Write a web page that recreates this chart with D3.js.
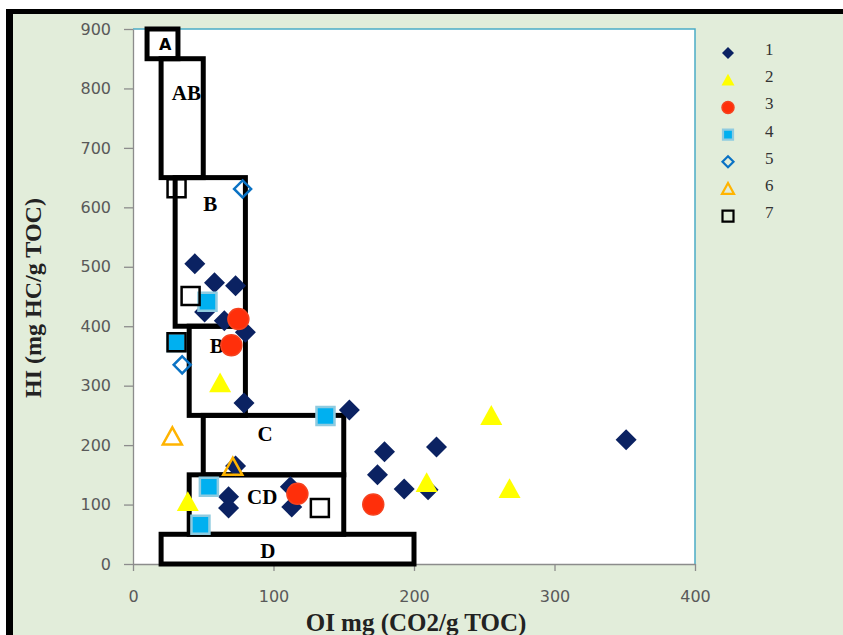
<!DOCTYPE html>
<html>
<head>
<meta charset="utf-8">
<script src="https://cdn.jsdelivr.net/npm/d3@7"></script>
<style>
  body { margin: 0; background: #ffffff; }
  svg { display: block; }
</style>
</head>
<body>
<div id="chart"></div>
<script>
// values (OI, HI)
const seriesLabels = ['1', '2', '3', '4', '5', '6', '7'];
const series1 = [[44, 505], [58, 473], [73, 468], [51, 424], [65, 409], [80, 390], [79, 271], [154, 259],
  [73, 165], [68, 113], [68, 94], [112, 130], [113, 96], [179, 189], [174, 150], [193, 126], [216, 197],
  [210, 125], [351, 209]];
const series2 = [[62, 304], [39, 104], [255, 249], [209, 136], [268, 126]];
const series3 = [[75, 412], [70, 368], [117, 118], [171, 100]];
const series4 = [[53, 441], [31, 373], [137, 249], [54, 130], [48, 66]];
const series5 = [[78, 631], [35, 335]];
const series6 = [[28, 214], [71, 163]];
const series7 = [[41, 451], [31, 632], [31, 373], [133, 94]];

// zone boxes: name, OI from-to, HI from-to, label anchor (OI, HI)
const zones = [
  { name: 'A', x0: 10, x1: 32, y0: 850, y1: 900, lx: 23, ly: 875 },
  { name: 'AB', x0: 20, x1: 50, y0: 650, y1: 850, lx: 38, ly: 794 },
  { name: 'B', x0: 30, x1: 80, y0: 400, y1: 650, lx: 55, ly: 607 },
  { name: 'BC', x0: 40, x1: 80, y0: 250, y1: 400, lx: 65, ly: 368 },
  { name: 'C', x0: 50, x1: 150, y0: 150, y1: 250, lx: 94, ly: 219 },
  { name: 'CD', x0: 40, x1: 150, y0: 50, y1: 150, lx: 92, ly: 113 },
  { name: 'D', x0: 20, x1: 200, y0: 0, y1: 50, lx: 96, ly: 22 }
];

const xTicks = [0, 100, 200, 300, 400];
const yTicks = [0, 100, 200, 300, 400, 500, 600, 700, 800, 900];

const width = 843;
const height = 635;
const plot = { left: 133, right: 695, top: 29, bottom: 564 };

const svg = d3.select('#chart').append('svg')
  .attr('width', width)
  .attr('height', height);

// outer frame
svg.append('rect').attr('x', 0).attr('y', 0).attr('width', width).attr('height', height).attr('fill', '#ffffff');
svg.append('rect').attr('x', 6).attr('y', 9).attr('width', width - 6).attr('height', height - 9).attr('fill', '#e2edda');
svg.append('rect').attr('x', 6).attr('y', 9).attr('width', width - 6).attr('height', 5).attr('fill', '#000000');
svg.append('rect').attr('x', 6).attr('y', 9).attr('width', 7).attr('height', height - 9).attr('fill', '#000000');

const x = d3.scaleLinear().domain([0, 400]).range([plot.left, plot.right]);
const y = d3.scaleLinear().domain([0, 900]).range([plot.bottom, plot.top]);

svg.append('rect')
  .attr('x', plot.left).attr('y', plot.top)
  .attr('width', plot.right - plot.left).attr('height', plot.bottom - plot.top)
  .attr('fill', '#ffffff');

// light blue top / right edges of plot area
svg.append('path')
  .attr('d', `M${plot.left},${plot.top}H${plot.right}V${plot.bottom}`)
  .attr('fill', 'none')
  .attr('stroke', '#4bacc6')
  .attr('stroke-width', 1.5);

const yAxis = svg.append('g')
  .attr('transform', `translate(${plot.left},0)`)
  .call(d3.axisLeft(y).tickValues(yTicks).tickSize(9).tickPadding(13).tickSizeOuter(0));
const xAxis = svg.append('g')
  .attr('transform', `translate(0,${plot.bottom})`)
  .call(d3.axisBottom(x).tickValues(xTicks).tickSize(7).tickPadding(20).tickSizeOuter(0));

[yAxis, xAxis].forEach((axis) => {
  axis.selectAll('path, line').attr('stroke', '#8c8c8c').attr('stroke-width', 1.3);
  axis.selectAll('text')
    .attr('fill', '#595959')
    .style('font-family', '"DejaVu Sans", sans-serif')
    .style('font-size', '16px');
});

// zone boxes
svg.selectAll('.zone')
  .data(zones)
  .enter()
  .append('rect')
  .attr('class', 'zone')
  .attr('x', (d) => x(d.x0))
  .attr('y', (d) => y(d.y1))
  .attr('width', (d) => x(d.x1) - x(d.x0))
  .attr('height', (d) => y(d.y0) - y(d.y1))
  .attr('fill', 'none')
  .attr('stroke', '#000000')
  .attr('stroke-width', 5);

svg.selectAll('.zone-label')
  .data(zones)
  .enter()
  .append('text')
  .attr('class', 'zone-label')
  .attr('x', (d) => x(d.lx))
  .attr('y', (d) => y(d.ly))
  .attr('dy', '0.36em')
  .attr('text-anchor', 'middle')
  .style('font-family', (d) => (d.name === 'A' ? '"DejaVu Sans", sans-serif' : '"Liberation Serif", serif'))
  .style('font-weight', 'bold')
  .style('font-size', (d) => (d.name === 'A' ? '16px' : '21px'))
  .text((d) => d.name);

// marker shapes
function shapePath(kind, r) {
  if (kind === 'diamond') {
    return `M0,${-r}L${r},0L0,${r}L${-r},0Z`;
  }
  if (kind === 'triangle') {
    const h = r * 1.8;
    return `M0,${-h * 0.55}L${r},${h * 0.45}L${-r},${h * 0.45}Z`;
  }
  if (kind === 'square') {
    return `M${-r},${-r}H${r}V${r}H${-r}Z`;
  }
  return d3.arc()({ innerRadius: 0, outerRadius: r, startAngle: 0, endAngle: 2 * Math.PI });
}

const styles = [
  { kind: 'diamond', r: 10.5, fill: '#0b2262', stroke: 'none', sw: 0, lr: 6 },
  { kind: 'triangle', r: 11, fill: '#ffff00', stroke: 'none', sw: 0, lr: 6.5 },
  { kind: 'circle', r: 10.5, fill: '#ff2f0a', stroke: '#f5421f', sw: 1.5, lr: 6 },
  { kind: 'square', r: 9, fill: '#00b0f0', stroke: '#8fcbe0', sw: 2.5, lr: 5 },
  { kind: 'diamond', r: 8.5, fill: 'none', stroke: '#0a72c4', sw: 2.5, lr: 5.5 },
  { kind: 'triangle', r: 9.5, fill: 'none', stroke: '#ffb400', sw: 2.5, lr: 6 },
  { kind: 'square', r: 9, fill: 'none', stroke: '#000000', sw: 2.5, lr: 5.5 }
];

const allSeries = [series1, series2, series3, series4, series5, series6, series7];

allSeries.forEach((points, i) => {
  const st = styles[i];
  svg.append('g')
    .selectAll('path')
    .data(points)
    .enter()
    .append('path')
    .attr('transform', (p) => `translate(${x(p[0])},${y(p[1])})`)
    .attr('d', shapePath(st.kind, st.r))
    .attr('fill', st.fill)
    .attr('stroke', st.stroke)
    .attr('stroke-width', st.sw);
});

// legend
const legend = svg.append('g').attr('transform', 'translate(728,53)');
const legendRows = legend.selectAll('g')
  .data(seriesLabels)
  .enter()
  .append('g')
  .attr('transform', (d, i) => `translate(0,${i * 27.2})`);

legendRows.append('path')
  .attr('d', (d, i) => shapePath(styles[i].kind, styles[i].lr))
  .attr('fill', (d, i) => styles[i].fill)
  .attr('stroke', (d, i) => styles[i].stroke)
  .attr('stroke-width', (d, i) => Math.min(styles[i].sw, 2.2));

legendRows.append('text')
  .attr('x', 37)
  .attr('y', -4)
  .attr('dy', '0.35em')
  .attr('fill', '#333333')
  .style('font-family', '"Liberation Serif", serif')
  .style('font-size', '17px')
  .text((d) => d);

// axis titles
svg.append('text')
  .attr('x', 416)
  .attr('y', 631)
  .attr('text-anchor', 'middle')
  .style('font-family', '"Liberation Serif", serif')
  .style('font-weight', 'bold')
  .style('font-size', '25px')
  .attr('fill', '#222')
  .text('OI mg (CO2/g TOC)');

svg.append('text')
  .attr('transform', 'translate(41,298) rotate(-90)')
  .attr('text-anchor', 'middle')
  .style('font-family', '"Liberation Serif", serif')
  .style('font-weight', 'bold')
  .style('font-size', '24px')
  .attr('fill', '#222')
  .text('HI (mg HC/g TOC)');
</script>
</body>
</html>
